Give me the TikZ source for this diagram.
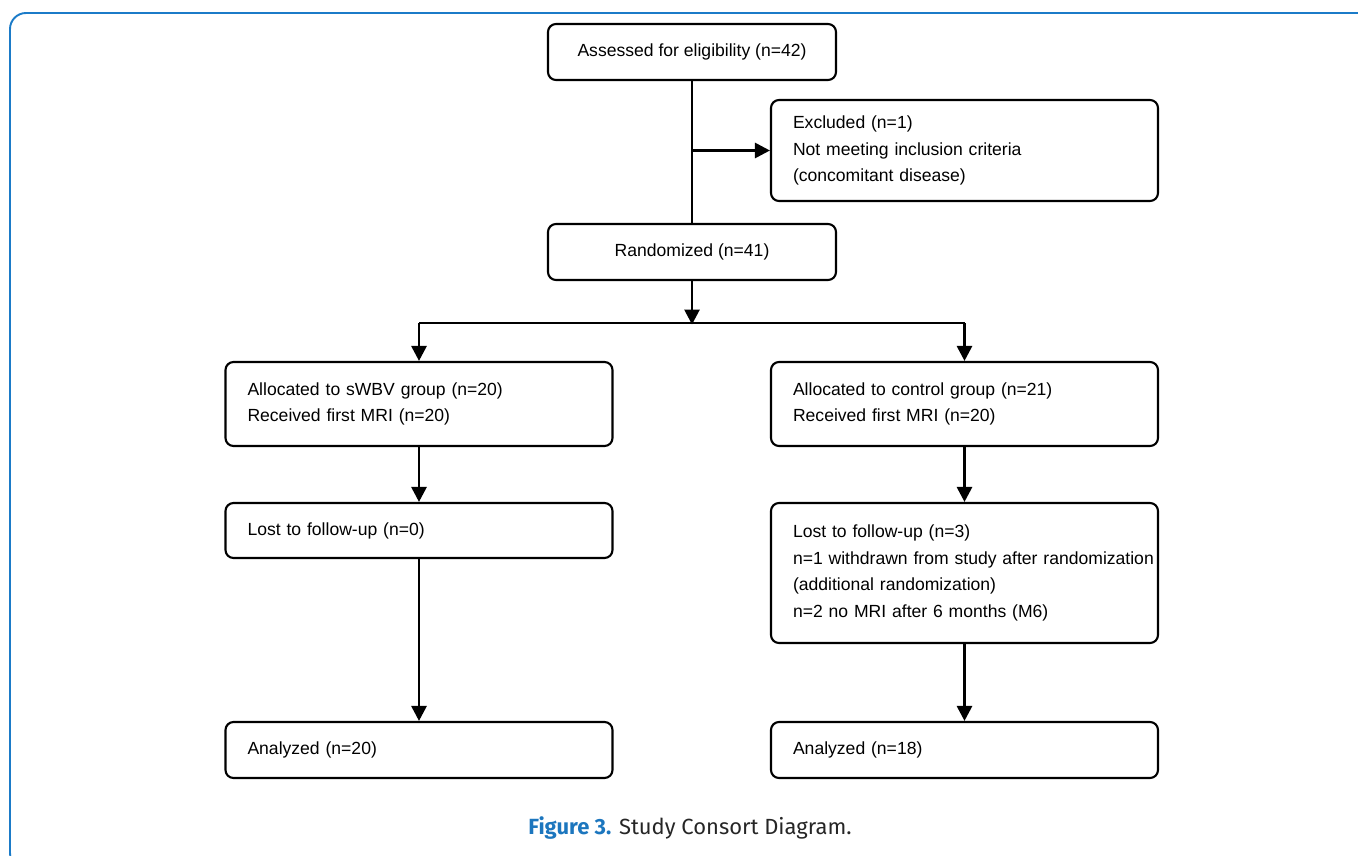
\documentclass[tikz,border=0pt]{standalone}
\usepackage{fontspec}
\setmainfont{Liberation Sans}
\newfontfamily\capfont{Fira Sans}
\usetikzlibrary{arrows.meta}
\definecolor{framblue}{HTML}{1B7BC8}
\definecolor{capblue}{HTML}{1C76BE}

\begin{document}
\begin{tikzpicture}[x=0.02cm,y=-0.02cm,
    box/.style={draw, line width=1.2pt, rounded corners=8*0.02cm, inner xsep=22*0.02cm, inner ysep=0pt,
      font=\fontsize{10}{15.3}\selectfont},
    wbox/.style={box, text width=343*0.02cm, align=left},
    nbox/.style={box, minimum width=288*0.02cm, minimum height=56*0.02cm, align=center},
    arr/.style={line width=1.6pt, -{Triangle[width=15*0.02cm,length=15*0.02cm]}},
    ln/.style={line width=1.6pt}]
            \clip (0,0) rectangle (1358,855);
            \useasboundingbox (0,0) rectangle (1358,855);
            % outer frame
            \draw [framblue, line width=1.1pt, rounded corners=16*0.02cm] (10,13) rectangle (1420,869);
            % boxes
            \node [nbox] (assess) at (692,52) {Assessed for eligibility (n=42)};
            \node [wbox, minimum height=101*0.02cm] (excl) at (964.5,150.5) {Excluded (n=1)\\Not meeting inclusion criteria\\(concomitant disease)};
            \node [nbox] (rand) at (692,252) {Randomized (n=41)};
            \node [wbox, minimum height=84*0.02cm] (swbv) at (419,404) {Allocated to sWBV group (n=20)\\Received first MRI (n=20)};
            \node [wbox, minimum height=84*0.02cm] (ctrl) at (964.5,404) {Allocated to control group (n=21)\\Received first MRI (n=20)};
            \node [wbox, minimum height=55*0.02cm] (lostl) at (419,530.5) {Lost to follow-up (n=0)};
            \node [wbox, minimum height=140*0.02cm] (lostr) at (964.5,573) {Lost to follow-up (n=3)\\\mbox{n=1 withdrawn from study after randomization}\\(additional randomization)\\n=2 no MRI after 6 months (M6)};
            \node [wbox, minimum height=56*0.02cm] (anal) at (419,750) {Analyzed (n=20)};
            \node [wbox, minimum height=56*0.02cm] (anar) at (964.5,750) {Analyzed (n=18)};
            % caption
            \node [font=\capfont\fontsize{12.5}{15}\selectfont, text=black!85] (cap) at (690,828) {{\color{capblue}\bfseries Figure 3.} Study Consort Diagram.};
            % connectors
            \coordinate (branch) at (assess.south |- excl.west);
            \coordinate (split) at (692,323);
            \coordinate (splitl) at (swbv.north |- split);
            \coordinate (splitr) at (ctrl.north |- split);
            \draw [ln] (assess.south) -- (rand.north);
            \draw [arr] (branch) -- (excl.west);
            \draw [arr] (rand.south) -- ([yshift=-1.5*0.02cm]split);
            \draw [ln, line join=round] (splitl) -- (splitr);
            \draw [arr] (splitl) -- (swbv.north);
            \draw [arr] (splitr) -- (ctrl.north);
            \draw [arr] (swbv.south) -- (lostl.north);
            \draw [arr] (lostl.south) -- (anal.north);
            \draw [arr] (ctrl.south) -- (lostr.north);
            \draw [arr] (lostr.south) -- (anar.north);
        \end{tikzpicture}
\end{document}
